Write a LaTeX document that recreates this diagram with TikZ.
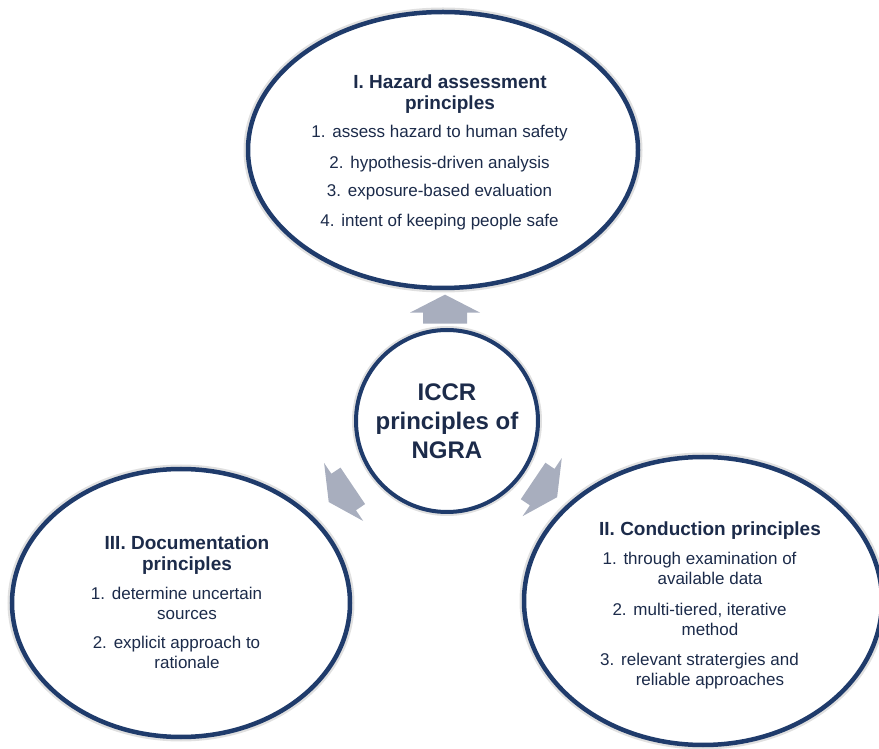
\documentclass[tikz,border=0pt]{standalone}
\usepackage{fontspec}
\setmainfont{Liberation Sans}
\usetikzlibrary{shapes.geometric, calc}
\definecolor{rimblue}{HTML}{1F3B6B}
\definecolor{inkblue}{HTML}{1C2B4A}
\definecolor{steelgray}{HTML}{A8AEBE}
\newcommand{\head}[1]{{\fontsize{19}{21}\selectfont\bfseries #1}}
\newcommand{\stepno}[1]{\llap{#1.\hspace{0.4em}}}

\begin{document}
\begin{tikzpicture}[
		x=1pt, y=1pt,
		ring/.style={ellipse, draw=rimblue, line width=4.5pt, fill=white, inner sep=0pt,
			preaction={draw=black!12, line width=9pt}},
		hub/.style={circle, draw=rimblue, line width=4pt, fill=white, inner sep=0pt, minimum size=182pt, align=center,
			text=inkblue, font=\fontsize{24}{29}\selectfont\bfseries, preaction={draw=black!12, line width=8pt}},
		list/.style={align=center, inner sep=0pt, text=inkblue, font=\fontsize{17}{20}\selectfont},
		push/.pic={
			\fill[steelgray] (-14.5,-22) -- (-3.5,-22) -- (-3.5,-35) -- (14.5,0) -- (-3.5,35) -- (-3.5,22) -- (-14.5,22) -- cycle;
		}
		]
		\useasboundingbox (0,0) rectangle (879,748);
		
		% centre
		\node[hub] (core) at (447,327) {ICCR\\principles of\\NGRA};
		
		% the three outer ellipses
		\node[ring, minimum width=390pt, minimum height=276pt] (hazard) at (443,598) {};
		\node[ring, minimum width=358pt, minimum height=288pt] (cond) at (703,147) {};
		\node[ring, minimum width=338pt, minimum height=268pt] (doc) at (181,145) {};
		
		% I. hazard assessment (top)
		\node[list] (hazard text) at ([xshift=7pt, yshift=-2pt]hazard.center) {
			\head{I. Hazard assessment}\\[1pt]
			\head{principles}\\[8pt]
			\stepno{1}assess hazard to human safety\\[11pt]
			\stepno{2}hypothesis-driven analysis\\[8pt]
			\stepno{3}exposure-based evaluation\\[10pt]
			\stepno{4}intent of keeping people safe
		};
		
		% II. conduction (bottom right)
		\node[list] (cond text) at ([xshift=7pt, yshift=-4pt]cond.center) {
			\head{II. Conduction principles}\\[9pt]
			\stepno{1}through examination of\\
			available data\\[11pt]
			\stepno{2}multi-tiered, iterative\\
			method\\[10pt]
			\stepno{3}relevant stratergies and\\
			reliable approaches
		};
		
		% III. documentation (bottom left)
		\node[list] (doc text) at ([xshift=6pt, yshift=1pt]doc.center) {
			\head{III. Documentation}\\[1pt]
			\head{principles}\\[9pt]
			\stepno{1}determine uncertain\\
			sources\\[9pt]
			\stepno{2}explicit approach to\\
			rationale
		};
		
		% block arrows out of the centre
		\pic[rotate=90] at ($(core.north)!0.5!(hazard.south)$) {push};
		\pic[rotate=214] at ($(core.214)!0.5!(doc.34)$) {push};
		\pic[rotate=326] at ($(core.326)!0.5!(cond.145)$) {push};
		
	\end{tikzpicture}
\end{document}
